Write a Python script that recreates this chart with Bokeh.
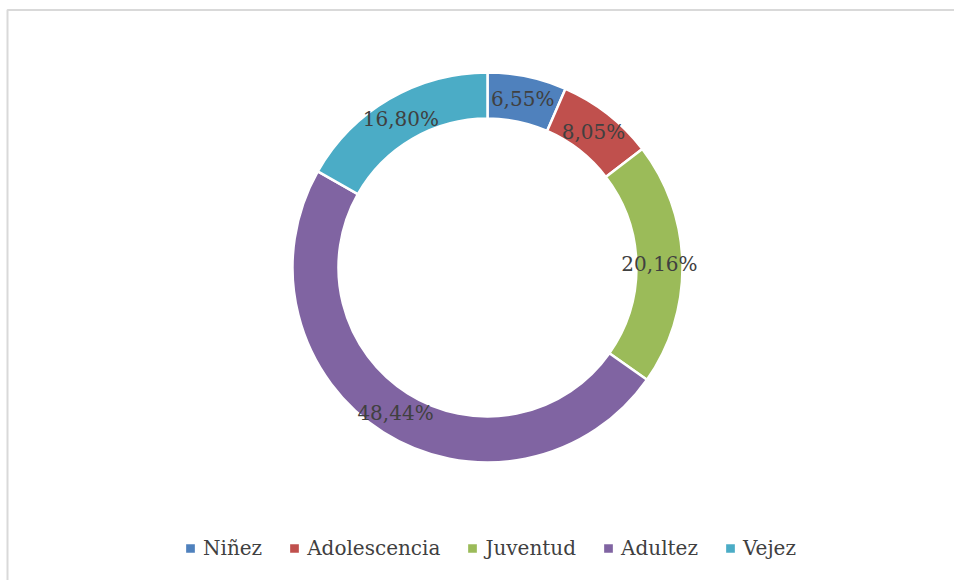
import math
from bokeh.plotting import figure
from bokeh.models import ColumnDataSource, Legend, LegendItem, Range1d
from bokeh.core.properties import value
from bokeh.embed import file_html
from bokeh.resources import INLINE

categories = ["Niñez", "Adolescencia", "Juventud", "Adultez", "Vejez"]
shares = [6.55, 8.05, 20.16, 48.44, 16.80]
labels = ["6,55%", "8,05%", "20,16%", "48,44%", "16,80%"]
colors = ["#4F81BD", "#C0504D", "#9BBB59", "#8064A2", "#4BACC6"]

W, H = 954, 580
CX, CY = 487, 313
R_OUT, R_IN = 195, 149
FONT = "DejaVu Serif"

total = sum(shares)
starts, ends, lx, ly = [], [], [], []
cum = 0.0
for s in shares:
    a0 = math.pi / 2 - 2 * math.pi * cum / total
    a1 = math.pi / 2 - 2 * math.pi * (cum + s) / total
    mid = (a0 + a1) / 2
    rm = (R_OUT + R_IN) / 2
    starts.append(a0)
    ends.append(a1)
    lx.append(CX + rm * math.cos(mid))
    ly.append(CY + rm * math.sin(mid))
    cum += s

src = ColumnDataSource(dict(cat=categories, start=starts, end=ends, color=colors,
                            lx=lx, ly=ly, lab=labels))

p = figure(width=W, height=H, output_backend="svg", toolbar_location=None,
           x_range=Range1d(0, W), y_range=Range1d(0, H), min_border=0)
p.axis.visible = False
p.grid.visible = False
p.outline_line_color = None
p.background_fill_color = "white"
p.border_fill_color = "white"

# chart-area border (left and top edges visible in the window)
p.line(x=[7, 7, W + 5], y=[-5, 570.5, 570.5], line_color="#d9d9d9", line_width=2)

r = p.annular_wedge(x=CX, y=CY, inner_radius=R_IN, outer_radius=R_OUT,
                    start_angle="start", end_angle="end", direction="clock",
                    fill_color="color", line_color="white", line_width=2.5, source=src)

p.text(x="lx", y="ly", text="lab", source=src, text_align="center", text_baseline="middle",
       text_font=value(FONT), text_font_size="20px", text_color="#404040")

items = [LegendItem(label=c, renderers=[r], index=i) for i, c in enumerate(categories)]
legend = Legend(items=items, orientation="horizontal", location=(183, 20),
                glyph_width=14, glyph_height=14, label_standoff=6, spacing=25,
                padding=0, margin=0, border_line_color=None, background_fill_alpha=0,
                label_text_font=FONT, label_text_font_size="20px", label_text_color="#404040")
p.add_layout(legend)

open("out.html", "w").write(file_html(p, INLINE))
